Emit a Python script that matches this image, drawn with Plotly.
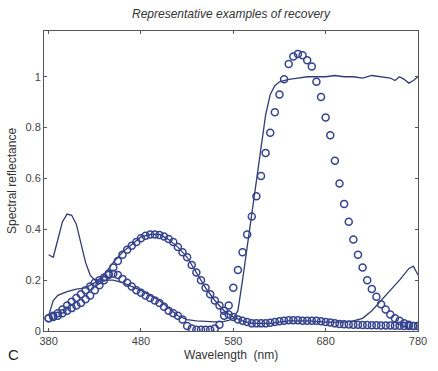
import plotly.graph_objects as go

# ---------------- data ----------------
# Red/magenta sample: original (solid line)
red_wl = [380, 385, 390, 395, 400, 405, 410, 415, 420, 425, 430, 440, 450, 460, 470,
          480, 490, 500, 510, 520, 530, 540, 550, 560, 570, 575, 580, 585, 590, 595,
          600, 605, 610, 615, 620, 625, 630, 640, 650, 660, 670, 680, 690, 700, 710,
          720, 730, 740, 750, 755, 760, 765, 770, 775, 780]
red_orig = [0.30, 0.29, 0.36, 0.43, 0.46, 0.455, 0.42, 0.35, 0.27, 0.22, 0.20, 0.20, 0.20, 0.19, 0.175,
            0.16, 0.14, 0.12, 0.09, 0.06, 0.045, 0.04, 0.038, 0.036, 0.038, 0.042, 0.05, 0.08, 0.20, 0.33,
            0.46, 0.59, 0.74, 0.85, 0.93, 0.965, 0.98, 0.99, 0.995, 1.0, 1.0, 1.0, 1.005, 1.0, 1.0,
            0.995, 1.005, 1.0, 0.995, 0.985, 1.0, 0.99, 0.975, 0.985, 1.0]

# Red/magenta sample: recovered (circles)
red_rec_wl = list(range(380, 781, 5))
red_rec = [0.05, 0.06, 0.07, 0.085, 0.10, 0.115, 0.13, 0.145, 0.16, 0.175, 0.19, 0.20, 0.21, 0.22, 0.225,
           0.22, 0.205, 0.19, 0.175, 0.16, 0.15, 0.14, 0.13, 0.12, 0.11, 0.095, 0.08, 0.07, 0.06, 0.045,
           0.02, 0.01, 0.005, 0.005, 0.005, 0.005, 0.01, 0.025, 0.06, 0.10, 0.17, 0.24, 0.31, 0.38, 0.45,
           0.53, 0.61, 0.70, 0.78, 0.86, 0.93, 0.99, 1.05, 1.08, 1.09, 1.085, 1.065, 1.04, 0.98, 0.92,
           0.84, 0.77, 0.67, 0.58, 0.50, 0.43, 0.36, 0.30, 0.25, 0.20, 0.165, 0.135, 0.105, 0.085, 0.065,
           0.05, 0.04, 0.03, 0.025, 0.02, 0.02]

# Blue-green sample: original (solid line)
bg_wl = [380, 385, 390, 400, 410, 420, 430, 440, 450, 460, 470, 480, 490, 500, 510,
         520, 530, 540, 550, 560, 570, 580, 590, 600, 620, 640, 660, 680, 700, 710,
         720, 730, 740, 750, 760, 770, 775, 780]
bg_orig = [0.06, 0.12, 0.14, 0.155, 0.165, 0.17, 0.19, 0.22, 0.27, 0.31, 0.34, 0.37, 0.38, 0.38, 0.36,
           0.33, 0.29, 0.23, 0.17, 0.12, 0.08, 0.055, 0.04, 0.03, 0.03, 0.04, 0.04, 0.035, 0.035, 0.04,
           0.05, 0.08, 0.12, 0.16, 0.20, 0.245, 0.255, 0.22]

# Blue-green sample: recovered (circles)
bg_rec_wl = list(range(380, 781, 5))
bg_rec = [0.05, 0.055, 0.06, 0.07, 0.08, 0.09, 0.10, 0.11, 0.125, 0.14, 0.16, 0.18, 0.20, 0.225, 0.25,
          0.275, 0.30, 0.32, 0.335, 0.35, 0.365, 0.375, 0.38, 0.38, 0.378, 0.372, 0.362, 0.35, 0.33, 0.31,
          0.29, 0.26, 0.23, 0.20, 0.17, 0.145, 0.12, 0.10, 0.08, 0.065, 0.055, 0.045, 0.04, 0.035, 0.03,
          0.03, 0.03, 0.03, 0.032, 0.035, 0.038, 0.04, 0.042, 0.042, 0.042, 0.04, 0.04, 0.04, 0.04, 0.038,
          0.035, 0.033, 0.03, 0.028, 0.027, 0.026, 0.025, 0.025, 0.024, 0.024, 0.023, 0.023, 0.022, 0.022, 0.022,
          0.021, 0.021, 0.02, 0.02, 0.02, 0.02]

x_ticks = [380, 480, 580, 680, 780]
y_ticks = [0, 0.2, 0.4, 0.6, 0.8, 1]
y_tick_text = ["0", "0.2", "0.4", "0.6", "0.8", "1"]

title = "Representative examples of recovery"
x_title = "Wavelength  (nm)"
y_title = "Spectral reflectance"
panel_label = "C"

# ---------------- style ----------------
line_col = "#323c72"
mark_col = "#34428f"
font_fam = "Liberation Sans, Arial, sans-serif"

fig = go.Figure()
fig.add_trace(go.Scatter(x=red_wl, y=red_orig, mode="lines",
                         line=dict(color=line_col, width=1.3), showlegend=False))
fig.add_trace(go.Scatter(x=bg_wl, y=bg_orig, mode="lines",
                         line=dict(color=line_col, width=1.3), showlegend=False))
fig.add_trace(go.Scatter(x=bg_rec_wl, y=bg_rec, mode="markers",
                         marker=dict(symbol="circle-open", size=7, color=mark_col,
                                     line=dict(width=1.5, color=mark_col)), showlegend=False))
fig.add_trace(go.Scatter(x=red_rec_wl, y=red_rec, mode="markers",
                         marker=dict(symbol="circle-open", size=7, color=mark_col,
                                     line=dict(width=1.5, color=mark_col)), showlegend=False))

axis_common = dict(showgrid=False, zeroline=False, showline=True, linecolor="#555555",
                   linewidth=1, mirror="ticks", ticks="inside", ticklen=3,
                   tickcolor="#555555", tickfont=dict(family=font_fam, size=11, color="#444444"))

fig.update_xaxes(range=[375, 780], tickvals=x_ticks, ticktext=[str(v) for v in x_ticks], **axis_common)
fig.update_yaxes(range=[0, 1.18], tickvals=y_ticks, ticktext=y_tick_text, **axis_common)

fig.update_layout(
    width=438, height=371,
    margin=dict(l=44, r=11, t=31, b=40),
    paper_bgcolor="white", plot_bgcolor="white",
    font=dict(family=font_fam, color="#333333"),
    annotations=[
        dict(text=f"<i>{title}</i>", x=0.5, y=1, xref="paper", yref="paper",
             xanchor="center", yanchor="bottom", yshift=8, showarrow=False,
             font=dict(size=12, color="#333333", family=font_fam)),
        dict(text=x_title, x=0.5, y=0, xref="paper", yref="paper",
             xanchor="center", yanchor="top", yshift=-15, showarrow=False,
             font=dict(size=12, color="#333333", family=font_fam)),
        dict(text=y_title, x=0, y=0.5, xref="paper", yref="paper", textangle=-90,
             xanchor="right", yanchor="middle", xshift=-23, showarrow=False,
             font=dict(size=12, color="#333333", family=font_fam)),
        dict(text=panel_label, x=0, y=0, xref="paper", yref="paper",
             xanchor="left", yanchor="top", xshift=-38, yshift=-13, showarrow=False,
             font=dict(size=15, color="#222222", family=font_fam)),
    ],
)

fig.write_html("out.html", config={"displayModeBar": False},
               post_script="document.body.style.margin='0';document.body.style.padding='0';")
